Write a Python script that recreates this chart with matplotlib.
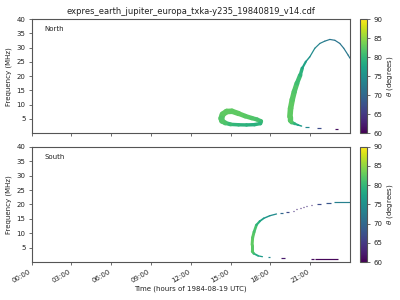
import numpy as np
import matplotlib
matplotlib.use("Agg")
import matplotlib.pyplot as plt
from matplotlib.collections import LineCollection
from matplotlib.colors import Normalize

# ---------------- data ----------------
title = "expres_earth_jupiter_europa_txka-y235_19840819_v14.cdf"
tick_hours = [0, 3, 6, 9, 12, 15, 18, 21]
tick_labels = ["00:00", "03:00", "06:00", "09:00", "12:00", "15:00", "18:00", "21:00"]
ytick_vals = [5, 10, 15, 20, 25, 30, 35, 40]
cbar_ticks = [60, 65, 70, 75, 80, 85, 90]

# North: closed loop (centre line), hours / MHz / width px / theta deg
north_loop_t = [14.30, 14.40, 14.70, 15.10, 15.60, 16.10, 16.60, 17.00, 17.30, 17.25,
                16.80, 16.20, 15.60, 15.00, 14.60, 14.35, 14.30]
north_loop_f = [5.2, 6.6, 7.6, 7.7, 6.9, 6.0, 5.3, 4.8, 4.2, 3.4,
                3.0, 2.9, 2.95, 3.1, 3.6, 4.3, 5.2]
north_loop_w = [6.0, 6.0, 5.6, 5.6, 5.0, 4.6, 4.4, 4.2, 4.0, 3.6,
                3.4, 3.4, 3.4, 3.6, 4.5, 5.5, 6.0]
north_loop_th = [82, 82.5, 82.5, 82.5, 82.5, 82.5, 82, 81.5, 81, 80,
                 79, 79, 79.5, 80, 81, 82, 82]

# North: big arc with low-frequency tail
north_arc_t = [20.35, 20.10, 19.85, 19.60, 19.47, 19.47, 19.52, 19.65, 19.80, 20.00,
               20.25, 20.40, 20.67, 20.97, 21.35, 21.73, 22.10, 22.48, 22.86, 23.23,
               23.53, 23.86, 24.00]
north_arc_f = [2.5, 2.85, 3.3, 3.8, 4.6, 5.8, 8.7, 11.8, 14.6, 17.5,
               20.4, 22.8, 25.1, 26.8, 29.8, 31.5, 32.3, 32.9, 32.6, 31.5,
               29.8, 27.4, 26.3]
north_arc_w = [1.3, 1.6, 2.5, 3.5, 5.0, 5.6, 5.6, 5.5, 5.3, 4.8,
               4.1, 2.8, 1.6, 1.3, 1.2, 1.2, 1.2, 1.2, 1.2, 1.2,
               1.2, 1.2, 1.2]
north_arc_th = [76, 77, 78.5, 80.5, 82, 82.5, 82.5, 82.5, 82, 81.5,
                80, 78.5, 76.5, 75, 74, 73, 72.5, 72, 71.5, 71.5,
                72, 72, 72]

# North: short dashes (start h, end h, MHz, theta)
north_dash_t0 = [20.60, 21.55, 22.86]
north_dash_t1 = [20.90, 21.78, 23.10]
north_dash_f = [2.2, 1.85, 1.5]
north_dash_th = [74, 67, 61]

# South: main curve
south_arc_t = [17.40, 17.08, 16.75, 16.62, 16.62, 16.66, 16.77, 16.95, 17.20, 17.50,
               17.96, 18.46]
south_arc_f = [1.9, 2.2, 3.0, 3.8, 6.0, 8.5, 10.5, 12.9, 14.2, 15.2,
               16.1, 16.7]
south_arc_w = [1.2, 1.4, 2.2, 3.0, 3.0, 3.0, 3.0, 2.5, 1.9, 1.6,
               1.3, 1.3]
south_arc_th = [76, 77, 79.5, 82, 82.5, 82.5, 82, 80.5, 78, 76.5,
                75, 74]

# South: dashes and dots
south_dash_t0 = [17.83, 18.80, 21.05, 21.37, 18.70, 19.20, 19.68, 19.95, 20.20,
                 20.45, 20.70, 21.05, 21.50, 22.20, 22.80]
south_dash_t1 = [18.00, 19.10, 21.27, 23.06, 18.96, 19.40, 19.75, 20.02, 20.27,
                 20.52, 20.77, 21.15, 21.80, 22.60, 24.00]
south_dash_f = [1.7, 1.55, 1.05, 1.05, 16.9, 17.4, 17.9, 18.3, 18.6,
                19.0, 19.3, 19.7, 20.0, 20.4, 20.7]
south_dash_th = [74, 62, 61, 60.5, 70, 67, 64, 63.5, 63.5,
                 63.5, 64, 64, 67, 68, 73]

# ---------------- drawing ----------------
cmap = plt.get_cmap("viridis")
norm = Normalize(vmin=60, vmax=90)
PX2PT = 72.0 / 100.0
edge = "#555555"
txt = "#222222"


def draw_curve(ax, t, f, w, th):
    pts = np.column_stack([t, f])
    segs = np.stack([pts[:-1], pts[1:]], axis=1)
    w = np.asarray(w, float)
    th = np.asarray(th, float)
    lc = LineCollection(segs, cmap=cmap, norm=norm,
                        linewidths=0.5 * (w[:-1] + w[1:]) * PX2PT,
                        capstyle="round", joinstyle="round")
    lc.set_array(0.5 * (th[:-1] + th[1:]))
    ax.add_collection(lc)


def draw_dashes(ax, t0, t1, f, th):
    segs = [[(a, y), (b, y)] for a, b, y in zip(t0, t1, f)]
    lc = LineCollection(segs, cmap=cmap, norm=norm, linewidths=1.2 * PX2PT,
                        capstyle="butt")
    lc.set_array(np.asarray(th, float))
    ax.add_collection(lc)


fig = plt.figure(figsize=(4, 3), dpi=100)
ax1 = fig.add_axes([0.079, 0.556, 0.796, 0.380])
ax2 = fig.add_axes([0.079, 0.126, 0.796, 0.385])
cax1 = fig.add_axes([0.900, 0.556, 0.0175, 0.380])
cax2 = fig.add_axes([0.900, 0.126, 0.0175, 0.385])

draw_curve(ax1, north_loop_t, north_loop_f, north_loop_w, north_loop_th)
draw_curve(ax1, north_arc_t, north_arc_f, north_arc_w, north_arc_th)
draw_dashes(ax1, north_dash_t0, north_dash_t1, north_dash_f, north_dash_th)
draw_curve(ax2, south_arc_t, south_arc_f, south_arc_w, south_arc_th)
draw_dashes(ax2, south_dash_t0, south_dash_t1, south_dash_f, south_dash_th)

for ax, name in ((ax1, "North"), (ax2, "South")):
    ax.set_xlim(0, 24)
    ax.set_ylim(0, 40)
    ax.set_yticks(ytick_vals)
    ax.set_xticks(tick_hours)
    ax.set_ylabel("Frequency (MHz)", fontsize=5, color=txt, labelpad=3)
    ax.tick_params(labelsize=5, length=2.5, width=0.6, colors=edge, labelcolor=txt, pad=2)
    for s in ax.spines.values():
        s.set_color(edge)
        s.set_linewidth(0.8)
    ax.text(0.04, 0.91, name, transform=ax.transAxes, fontsize=5,
            va="center", ha="left", color=txt)

ax1.set_xticklabels([])
ax2.set_xticklabels(tick_labels, rotation=30, ha="right")
ax2.set_xlabel("Time (hours of 1984-08-19 UTC)", fontsize=5, color=txt, labelpad=1)
ax1.set_title(title, fontsize=6, pad=4, color=txt)

for cax in (cax1, cax2):
    sm = matplotlib.cm.ScalarMappable(norm=norm, cmap=cmap)
    cb = fig.colorbar(sm, cax=cax, ticks=cbar_ticks)
    cb.set_label(r"$\theta$ (degrees)", fontsize=5, color=txt, labelpad=2)
    cb.ax.tick_params(labelsize=5, length=2.5, width=0.6, colors=edge, labelcolor=txt, pad=2)
    cb.outline.set_edgecolor(edge)
    cb.outline.set_linewidth(0.8)

fig.savefig("out.png", dpi=100)
